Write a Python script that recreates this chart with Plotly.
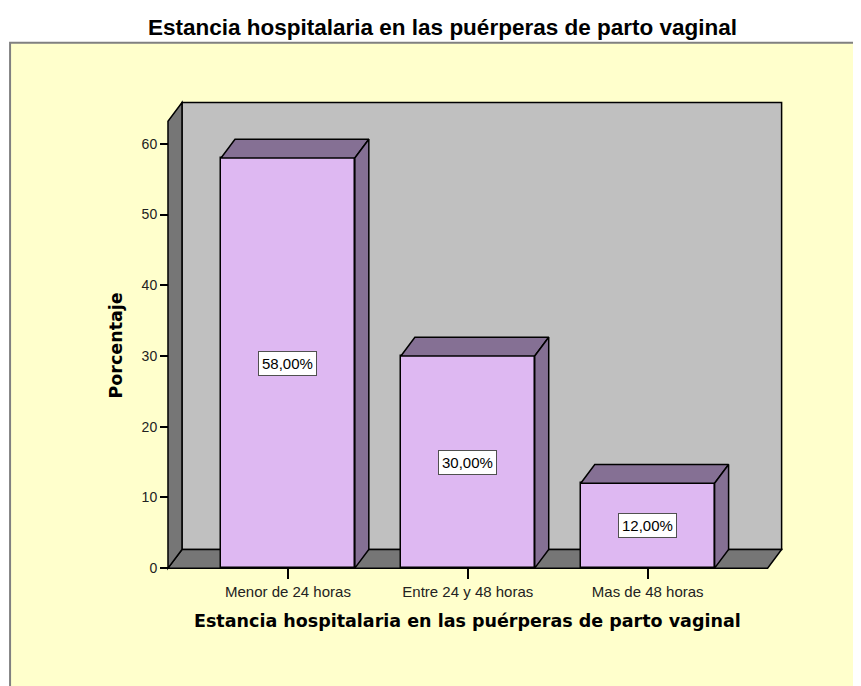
import plotly.graph_objects as go

# ---- data ----
categories = ["Menor de 24 horas", "Entre 24 y 48 horas", "Mas de 48 horas"]
percentages = [58.0, 30.0, 12.0]
y_ticks = [0, 10, 20, 30, 40, 50, 60]
title_text = "Estancia hospitalaria en las puérperas de parto vaginal"
x_title = "Estancia hospitalaria en las puérperas de parto vaginal"
y_title = "Porcentaje"

# ---- style / geometry ----
BAR_W = 0.744
DX, DY = 0.0778, 2.65          # 3D depth offset in axis units
X_LO, X_HI = -0.6667, 2.6667   # front floor extent
Y_TOP = 63.2                   # front top of left wall
XR = [-0.70, 2.78]
YR = [-0.4, 66.2]

FRONT = "#DEB8F2"
SIDE = "#857094"
WALL_BACK = "#C0C0C0"
WALL_DARK = "#767676"
PANEL = "#FFFFCC"
OUT = "black"

fig = go.Figure()

# front faces of bars
fig.add_trace(go.Bar(
    x=list(range(len(categories))), y=percentages, width=BAR_W,
    marker=dict(color=FRONT, line=dict(color=OUT, width=1.5)),
    hoverinfo="skip", showlegend=False))

# top and side faces built from the data
for i, v in enumerate(percentages):
    xl, xr = i - BAR_W / 2, i + BAR_W / 2
    top_x = [xl, xl + DX, xr + DX, xr, xl]
    top_y = [v, v + DY, v + DY, v, v]
    side_x = [xr, xr + DX, xr + DX, xr, xr]
    side_y = [0, DY, v + DY, v, 0]
    for px, py in ((top_x, top_y), (side_x, side_y)):
        fig.add_trace(go.Scatter(
            x=px, y=py, mode="lines", fill="toself", fillcolor=SIDE,
            line=dict(color=OUT, width=1.5), hoverinfo="skip", showlegend=False))

shapes = [
    # yellow panel
    dict(type="rect", xref="paper", yref="paper", x0=-0.2427, x1=1.5, y0=-0.5, y1=1.1213,
         fillcolor=PANEL, line=dict(color="#808080", width=2), layer="below"),
    # back wall
    dict(type="rect", xref="x", yref="y", x0=X_LO + DX, x1=X_HI + DX, y0=DY, y1=Y_TOP + DY,
         fillcolor=WALL_BACK, line=dict(color=OUT, width=1.5), layer="below"),
    # floor
    dict(type="path", xref="x", yref="y",
         path=f"M {X_LO},0 L {X_HI},0 L {X_HI + DX},{DY} L {X_LO + DX},{DY} Z",
         fillcolor=WALL_DARK, line=dict(color=OUT, width=1.5), layer="below"),
    # left wall
    dict(type="path", xref="x", yref="y",
         path=f"M {X_LO},0 L {X_LO + DX},{DY} L {X_LO + DX},{Y_TOP + DY} L {X_LO},{Y_TOP} Z",
         fillcolor=WALL_DARK, line=dict(color=OUT, width=1.5), layer="below"),
]

annotations = [
    dict(text=f"<b>{title_text}</b>", xref="paper", yref="paper", x=0.4486, y=1.1535,
         xanchor="center", yanchor="middle", showarrow=False,
         font=dict(family="Liberation Sans, Arial", size=22.5, color="black")),
    dict(text=f"<b>{x_title}</b>", xref="paper", yref="paper", x=0.4886, y=-0.1067,
         xanchor="center", yanchor="middle", showarrow=False,
         font=dict(family="DejaVu Sans", size=17.5, color="black")),
    dict(text=f"<b>{y_title}</b>", xref="paper", yref="paper", x=-0.0734, y=0.4788,
         xanchor="center", yanchor="middle", showarrow=False, textangle=-90,
         font=dict(family="DejaVu Sans", size=17.5, color="black")),
]
for i, v in enumerate(percentages):
    label = f"{v:.2f}".replace(".", ",") + "%"
    annotations.append(dict(
        text=label, x=i, y=v / 2, xref="x", yref="y", showarrow=False,
        xanchor="center", yanchor="middle", bgcolor="white",
        bordercolor="#505050", borderwidth=1, borderpad=3,
        font=dict(family="Liberation Sans, Arial", size=15, color="black")))

fig.update_layout(
    width=853, height=678,
    margin=dict(l=154, r=72.6, t=92.1, b=115.2, pad=0),
    paper_bgcolor="white", plot_bgcolor="rgba(0,0,0,0)",
    shapes=shapes, annotations=annotations, showlegend=False, bargap=0,
    xaxis=dict(range=XR, tickvals=list(range(len(categories))), ticktext=categories,
               showgrid=False, zeroline=False, showline=False,
               ticks="outside", ticklen=10, tickwidth=1.5, tickcolor="black",
               anchor="free", position=0.4 / 66.6,
               tickfont=dict(family="Liberation Sans, Arial", size=15, color="#222222"),
               fixedrange=True),
    yaxis=dict(range=YR, tickvals=y_ticks, showgrid=False, zeroline=False, showline=False,
               ticks="outside", ticklen=8, tickwidth=1.5, tickcolor="black",
               anchor="free", position=0.0333 / 3.48,
               tickfont=dict(family="Liberation Sans, Arial", size=14, color="#222222"),
               fixedrange=True),
)

fig.write_html("out.html")
